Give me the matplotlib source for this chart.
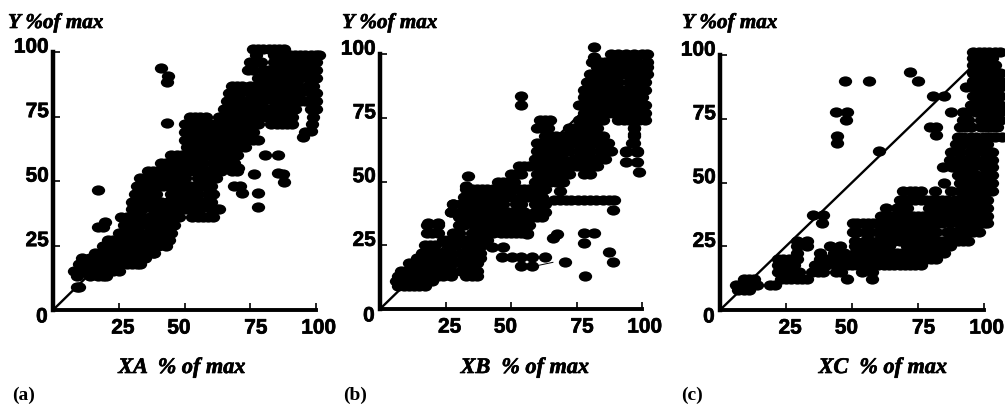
import matplotlib
matplotlib.use('Agg')
import matplotlib.pyplot as plt
import matplotlib.patheffects as pe
from matplotlib.path import Path
from matplotlib.transforms import Affine2D

W, H = 1005, 410

# each panel: y levels and the x of the points read on that level
a_y = [9, 13, 15, 18, 20, 22, 25, 27, 30, 33, 36, 39, 42, 45, 48, 51, 54, 57, 60, 63, 66, 69, 72, 75, 78, 81, 84, 87, 90, 93, 96, 99, 101]
a_x = [
    [9, 10],
    [9, 14, 17, 19, 20],
    [8, 10, 13, 15, 17, 19, 21, 23, 25],
    [10, 13, 15, 17, 19, 22, 25, 28, 30, 32, 33],
    [11, 14, 16, 18, 20, 22, 24, 28, 31, 33, 35],
    [16, 18, 20, 22, 24, 26, 30, 33, 35, 38],
    [19, 21, 23, 25, 27, 30, 33, 36, 38, 40, 43],
    [21, 23, 25, 28, 30, 33, 36, 39, 41, 44],
    [25, 27, 29, 31, 33, 36, 39, 41, 43, 45],
    [27, 29, 31, 33, 36, 38, 40, 42, 44, 46],
    [26, 28, 30, 32, 34, 37, 40, 42, 44, 46, 48, 53, 55, 57, 59, 61],
    [30, 32, 34, 38, 40, 42, 44, 46, 48, 50, 52, 54, 56, 60, 62, 63],
    [30, 32, 34, 36, 39, 41, 44, 46, 48, 50, 52, 54, 56, 58, 60],
    [31, 33, 35, 37, 39, 45, 47, 49, 51, 53, 55, 59, 61],
    [32, 34, 36, 38, 40, 42, 44, 46, 48, 50, 52, 54, 56, 58, 60],
    [33, 36, 38, 40, 42, 44, 46, 48, 50, 55, 57, 59, 61, 62],
    [36, 38, 40, 42, 44, 46, 48, 50, 52, 54, 56, 58, 60, 62, 64, 68, 70],
    [41, 43, 45, 47, 49, 51, 53, 55, 57, 61, 63, 65, 67, 69],
    [45, 47, 49, 51, 53, 55, 57, 59, 62, 64, 66, 68, 70],
    [51, 53, 55, 57, 59, 61, 63, 65, 67, 69, 71, 73],
    [50, 52, 54, 56, 58, 60, 62, 64, 66, 68, 70, 72, 74, 76, 78],
    [50, 52, 54, 56, 58, 60, 62, 64, 66, 68, 70, 72, 74, 76],
    [50, 52, 54, 56, 58, 60, 62, 64, 66, 68, 70, 72, 74, 76, 78, 83, 85, 87, 89, 91],
    [52, 54, 56, 58, 63, 65, 67, 69, 71, 73, 75, 77, 79, 81, 83, 85, 87, 89, 91, 99],
    [65, 67, 69, 71, 73, 76, 78, 80, 82, 84, 86, 88, 90, 92, 98, 100],
    [66, 68, 70, 72, 74, 76, 78, 80, 84, 86, 88, 90, 92, 94, 96, 98, 100],
    [67, 69, 71, 75, 77, 79, 81, 83, 85, 87, 89, 91, 94, 98, 100],
    [68, 70, 72, 75, 77, 79, 81, 83, 85, 87, 89, 91, 93, 97, 99],
    [78, 80, 82, 84, 86, 88, 90, 92, 94, 97, 100],
    [74, 76, 80, 82, 84, 86, 88, 90, 92, 94, 96, 98, 100],
    [75, 77, 79, 84, 86, 88, 90, 92, 94, 96, 98, 100],
    [77, 84, 86, 88, 90, 92, 94, 96, 98, 100, 101],
    [76, 78, 80, 82, 84, 86, 88],
]
a_out_x = [43.5, 41, 43.8, 43.5, 17, 19.7, 17, 19, 38.3, 80.6, 85.4, 76.5, 85.6, 87.5, 88, 69, 71, 72, 78, 78, 70.5, 68, 95, 98, 96, 98.5]
a_out_y = [72.5, 93.8, 90.7, 88.3, 46.6, 34.2, 32, 32, 22, 60, 60, 52.7, 53, 52.7, 49.5, 48, 48, 45.5, 45.5, 40, 55, 55, 67, 69.5, 69, 72]

b_y = [9, 11, 13, 15, 18, 20, 22, 25, 27, 30, 33, 36, 38, 41, 44, 47, 50, 53, 56, 59, 62, 65, 68, 71, 74, 77, 80, 83, 86, 89, 92, 95, 97, 100]
b_x = [
    [7, 9, 11, 13, 15, 17],
    [6, 8, 10, 12, 14, 16, 18, 20],
    [7, 10, 12, 14, 16, 18, 20, 22, 24, 27, 33, 35, 37],
    [8, 10, 12, 13, 15, 17, 19, 21, 23, 25, 27, 31, 33, 35, 37],
    [11, 13, 15, 17, 19, 21, 24, 26, 28, 31, 33, 35, 37],
    [14, 16, 18, 20, 22, 25, 27, 32, 34, 36, 38],
    [16, 18, 20, 22, 24, 27, 31, 33, 35, 38],
    [17, 19, 21, 26, 29, 33, 35, 37, 39],
    [24, 26, 28, 30, 33, 37, 39, 41],
    [18, 20, 22, 28, 30, 35, 37, 39, 41, 43, 46, 48, 50, 52, 54, 56],
    [18, 22, 30, 32, 36, 38, 40, 42, 45, 47, 49, 51, 53, 55, 57],
    [30, 32, 34, 37, 39, 41, 43, 45, 47, 49, 52, 54, 56, 58, 60, 62],
    [27, 31, 33, 35, 37, 39, 41, 43, 45, 47, 49, 51, 53, 55, 59, 61, 63],
    [28, 31, 33, 35, 37, 39, 41, 43, 45, 47, 52, 54, 59, 61, 63],
    [32, 34, 36, 38, 40, 42, 44, 46, 48, 50, 54, 56, 58, 60, 62],
    [33, 35, 37, 39, 41, 43, 45, 47, 49, 51, 53, 55, 57, 59, 61, 63],
    [45, 47, 49, 51, 59, 61, 63, 65, 67, 70],
    [50, 52, 54, 60, 62, 64, 66, 68, 70, 72, 78, 80],
    [53, 55, 57, 60, 62, 65, 67, 69, 71, 73, 75, 77, 79, 81, 83],
    [59, 61, 63, 66, 68, 70, 74, 76, 78, 80, 82, 84, 86],
    [60, 62, 64, 66, 68, 70, 72, 76, 78, 80, 84, 86, 88, 94, 98],
    [60, 62, 64, 66, 68, 70, 72, 74, 76, 79, 81, 83, 85, 87, 96],
    [63, 65, 67, 70, 72, 74, 76, 78, 81, 83, 85, 97],
    [60, 62, 64, 72, 74, 76, 78, 80, 83, 97],
    [61, 63, 65, 76, 78, 80, 82, 85, 91, 93, 95, 97, 99, 101],
    [78, 80, 83, 85, 87, 89, 91, 93, 95, 97, 99, 101],
    [76, 79, 81, 83, 85, 87, 89, 91, 93, 95, 97, 99, 101],
    [78, 80, 82, 84, 86, 88, 90, 92, 94, 96, 98, 100],
    [78, 80, 82, 84, 86, 88, 90, 92, 94, 96, 98, 101],
    [79, 81, 83, 85, 87, 89, 91, 95, 97, 99, 101],
    [80, 82, 84, 86, 88, 90, 92, 94, 96, 98, 100, 102],
    [83, 85, 87, 89, 91, 94, 96, 98, 100, 102],
    [81, 84, 86, 89, 92, 95, 98, 102],
    [88, 91, 94, 97, 100, 102],
]
b_out_x = [81.8, 81.8, 53.8, 53.8, 33.5, 33, 66.5, 68.7, 71, 73, 75.5, 78, 80, 82.5, 85, 87.5, 89.5, 89, 68.8, 67.5, 66, 77.7, 81.8, 78, 87.3, 89, 78.3, 70.7, 63, 42.7, 46.8, 46.5, 50.3, 54, 58, 54, 58, 56, 98.7, 94, 98, 94, 98, 96.8, 97, 97, 28, 27, 18.5, 22]
b_out_y = [102.6, 98.7, 83.7, 80, 52, 48.4, 42.9, 42.9, 42.9, 42.9, 42.9, 42.9, 42.9, 42.9, 42.9, 42.9, 42.9, 39, 46.4, 29.4, 27.7, 29.7, 29.7, 26, 22.2, 18.3, 12.8, 18.3, 20.3, 24.2, 24.2, 20.3, 20.3, 20.3, 20.3, 16.7, 16.7, 29.4, 53.6, 57.5, 57.5, 61.4, 61.4, 65, 68.6, 71, 41, 38, 33.7, 33.7]
# thin stray stroke under the lower cluster
b_line_x = [60, 66]
b_line_y = [17, 18.3]

c_y = [8, 10, 12, 15, 17.5, 20, 22.5, 25, 27, 30.5, 34, 37, 40, 43, 46.7, 50, 53, 56, 59, 62, 65, 68, 71.6, 74.5, 77.5, 80.5, 84, 87.3, 90, 93, 96, 99, 101]
c_x = [
    [7, 9, 11],
    [6, 8, 10, 12, 14, 19, 21],
    [9, 11, 13, 23, 25, 27, 29, 31, 33, 48, 57.4],
    [22, 24, 26, 28, 30, 35, 37, 39, 44, 46, 53.6, 57.5],
    [22, 24, 26, 28, 36, 38, 40, 44, 46, 48, 50, 52, 54, 56, 58, 60, 62, 64, 66, 68, 70, 72, 74, 76],
    [22, 24, 26, 29, 38, 40, 44, 46, 48, 50, 52, 56, 58, 60, 62, 64, 66, 68, 70, 74, 76, 78, 80, 82],
    [29, 38, 43, 45, 47, 51, 53, 55, 57, 59, 61, 63, 65, 67, 69, 71, 73, 75, 77, 79, 81, 83, 85],
    [29, 33, 41.6, 45.4, 51, 53, 55, 57, 60, 62, 64, 71, 73, 75, 77, 79, 81, 83, 85, 87],
    [29, 33, 51, 55, 57, 60, 62, 64, 66, 68, 70, 72, 74, 76, 78, 80, 82, 84, 86, 88, 90, 92, 94],
    [50.4, 52, 55, 57, 60, 62, 64, 66, 68, 70, 72, 74, 76, 78, 80, 82, 86, 88, 90, 92, 94, 96, 98],
    [50.4, 52, 54, 56, 58, 60, 62, 64, 66, 68, 70, 72, 74, 76, 78, 80, 82, 84, 87, 90, 92, 94, 96, 98, 100, 101],
    [61, 63, 65, 67, 69, 71, 73, 75, 77, 79, 82, 84, 86, 88, 90, 92, 94, 96, 98, 100, 101],
    [63, 67, 69, 71, 79, 81, 83, 85, 88, 90, 92, 94, 96, 98, 100, 101],
    [68, 70, 72, 74, 76, 78, 80, 82, 84, 86, 89, 91, 93, 95, 97, 99, 101],
    [69.4, 72, 74, 76.3, 81.3, 87.6, 90.8, 93, 95, 97, 99, 101, 103],
    [84.9, 90.8, 93, 95, 97, 99, 101, 103],
    [90, 93, 95, 97, 100, 102, 103],
    [84.5, 88, 90, 92, 94, 96, 100, 102, 103],
    [87, 90, 93, 95, 97, 100, 102, 103],
    [87.6, 90.8, 94.6, 97, 100, 103],
    [89.5, 92, 95, 97, 99, 101],
    [90, 92, 95, 97, 100, 102, 104, 107],
    [90.8, 93, 95, 99, 101, 103, 105],
    [92, 94, 99, 101, 103, 105, 106],
    [92, 94, 97, 99, 101, 103, 105, 106],
    [95, 97, 99, 101, 103, 105, 106],
    [96, 98, 100, 102, 104, 106],
    [93.3, 96, 98, 100, 102, 104, 106],
    [96, 98, 100, 102, 104, 106],
    [96, 98, 100, 102, 104, 106],
    [96, 98, 100, 102, 104],
    [96, 98, 100, 103],
    [96, 98, 100, 102, 104, 106],
]
c_out_x = [47.3, 56.5, 72, 75, 80.7, 85, 87.4, 79.4, 82, 82, 44, 48, 47.7, 44.5, 44.5, 60.3, 35.3, 39, 38.7]
c_out_y = [90, 90, 93.5, 90, 84, 83.8, 77.5, 71.6, 71.6, 68.6, 77.5, 77.5, 74.5, 68.3, 65.3, 62.2, 37.3, 37.3, 34.3]

ticks = [25, 50, 75, 100]

plt.rcParams['font.family'] = ['Liberation Sans', 'DejaVu Sans']
fig = plt.figure(figsize=(W / 100, H / 100), dpi=100)

# oval dot, wider than tall
oval = Path.unit_circle().transformed(Affine2D().scale(1.3, 1))
serif = dict(family='Liberation Serif', weight='bold', style='italic', color='black')
heavy = [pe.withStroke(linewidth=0.5, foreground='black')]


def panel(box, rows_y, rows_x, out_x, out_y, xlab, ylab_x, xlab_x, tag, tag_x):
    left, right, top, bottom = box
    ax = fig.add_axes([left / W, 1 - bottom / H, (right - left) / W, (bottom - top) / H])
    ax.set_xlim(0, 100)
    ax.set_ylim(0, 100)
    xs, ys = [], []
    for y, row in zip(rows_y, rows_x):
        xs += row
        ys += [y] * len(row)
    xs += out_x
    ys += out_y
    ax.scatter(xs, ys, s=92, c='black', marker=oval, linewidths=0, clip_on=False, zorder=3)
    ax.plot([0, 100], [0, 100], color='black', lw=1.7, zorder=2)
    for s in ['top', 'right']:
        ax.spines[s].set_visible(False)
    ax.spines['left'].set_linewidth(3.2)
    ax.spines['bottom'].set_linewidth(2.8)
    ax.set_xticks(ticks)
    ax.set_yticks(ticks)
    ax.set_xticklabels([])
    ax.set_yticklabels([])
    ax.tick_params(direction='in', length=5, width=1.2)
    num = dict(fontsize=15, fontweight='bold', color='black', va='center', annotation_clip=False, path_effects=heavy)
    dx = {25: 3, 50: -4, 75: 4, 100: 2}
    for t in ticks:
        ax.annotate(str(t), (t, 0), xytext=(dx[t], -13), textcoords='offset points', ha='center', **num)
        ax.annotate(str(t), (0, t), xytext=(-3, 3.5), textcoords='offset points', ha='right', **num)
    ax.annotate('0', (0, 0), xytext=(-8, -5), textcoords='offset points', ha='center', **num)
    fig.text(ylab_x / W, 1 - 24 / H, 'Y %of max', fontsize=15.2, va='center', ha='left', path_effects=heavy, **serif)
    fig.text(xlab_x / W, 1 - 369 / H, xlab, fontsize=16, va='center', ha='center', path_effects=heavy, **serif)
    fig.text(tag_x / W, 1 - 395 / H, tag, fontsize=14, va='center', ha='left',
             family='Liberation Serif', weight='bold', color='black')
    return ax


panel((53, 316, 53, 311), a_y, a_x, a_out_x, a_out_y, 'XA  % of max', 8, 182, '(a)', 12)
axb = panel((380, 642, 55, 310), b_y, b_x, b_out_x, b_out_y, 'XB  % of max', 342, 525, '(b)', 343)
axb.plot(b_line_x, b_line_y, color='black', lw=0.7, zorder=2)
panel((720, 984, 56, 311), c_y, c_x, c_out_x, c_out_y, 'XC  % of max', 682, 883, '(c)', 681)

fig.savefig('out.png', dpi=100)
